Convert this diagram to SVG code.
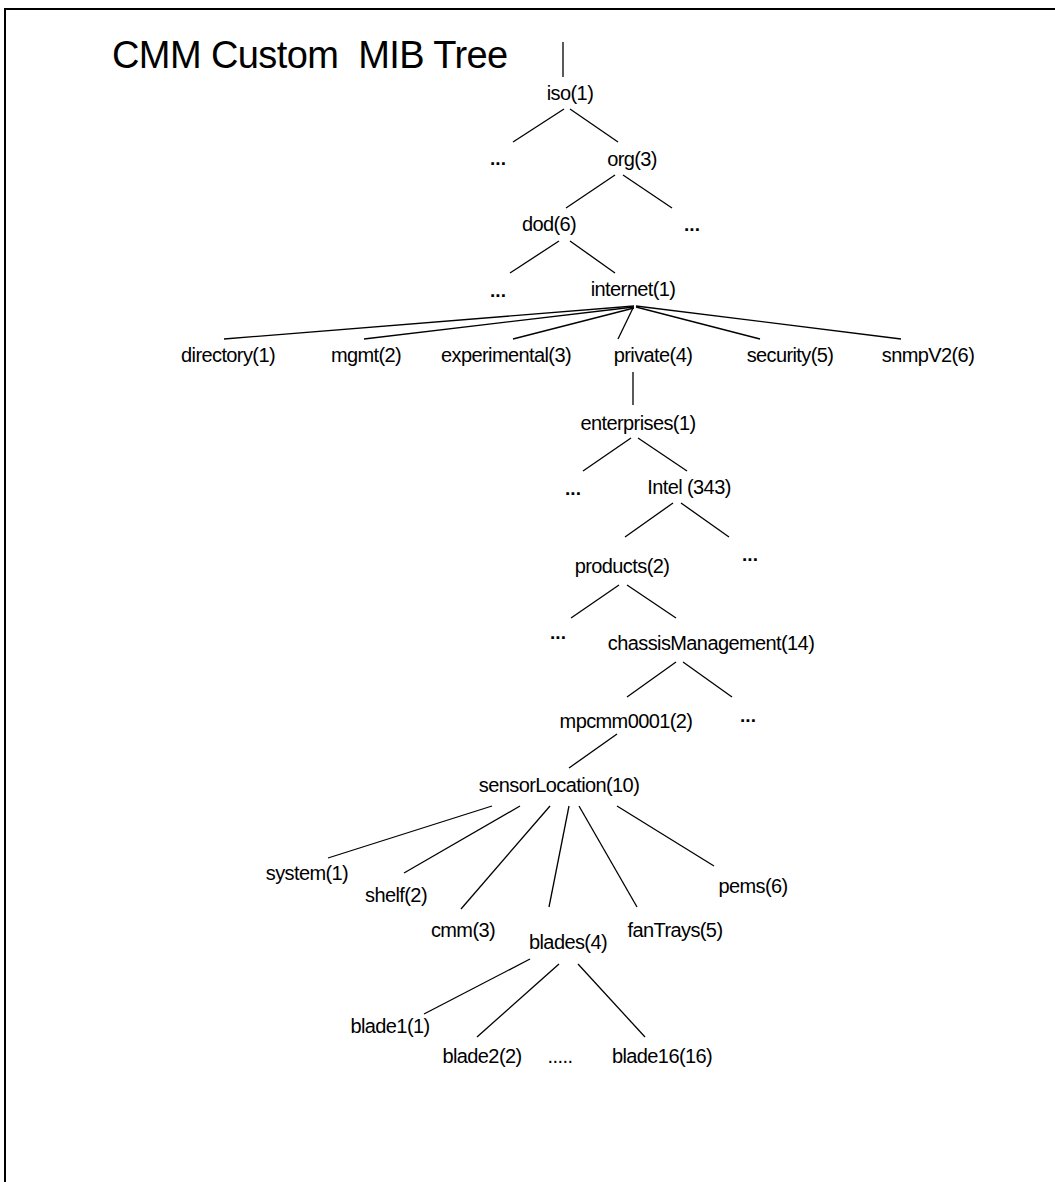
<svg xmlns="http://www.w3.org/2000/svg" width="1055" height="1182" viewBox="0 0 1055 1182">
<style>
  .t{font-family:"Liberation Sans",Arial,sans-serif;font-size:20px;fill:#000;text-anchor:middle;letter-spacing:-0.6px}
  .d{font-family:"Liberation Sans",Arial,sans-serif;font-size:19px;font-weight:bold;fill:#000;text-anchor:middle}
  .title{font-family:"Liberation Sans",Arial,sans-serif;font-size:38px;fill:#000;letter-spacing:-0.6px}
  #connectors line{stroke:#000;stroke-width:1.3}
</style>
<rect width="1055" height="1182" fill="#fff"/>
<path d="M5,1182 V9 H1055" fill="none" stroke="#000" stroke-width="2"/>
<text class="title" x="112" y="68" xml:space="preserve">CMM Custom  MIB Tree</text>
<g id="connectors">
  <line x1="563" y1="42" x2="563" y2="77"/>
  <line x1="564" y1="109" x2="513" y2="142"/>
  <line x1="570" y1="109" x2="618" y2="142"/>
  <line x1="615" y1="175" x2="566" y2="208"/>
  <line x1="623" y1="175" x2="672" y2="208"/>
  <line x1="559" y1="241" x2="510" y2="273"/>
  <line x1="570" y1="241" x2="615" y2="273"/>
  <line x1="634" y1="306" x2="224" y2="339"/>
  <line x1="634" y1="307" x2="364" y2="339"/>
  <line x1="634" y1="308" x2="513" y2="339"/>
  <line x1="633" y1="308" x2="618" y2="339"/>
  <line x1="636" y1="307" x2="760" y2="339"/>
  <line x1="636" y1="306" x2="901" y2="339"/>
  <line x1="633" y1="372" x2="633" y2="405"/>
  <line x1="631" y1="438" x2="583" y2="471"/>
  <line x1="638" y1="438" x2="687" y2="471"/>
  <line x1="673" y1="503" x2="625" y2="537"/>
  <line x1="681" y1="503" x2="729" y2="537"/>
  <line x1="619" y1="585" x2="571" y2="618"/>
  <line x1="627" y1="585" x2="676" y2="618"/>
  <line x1="676" y1="662" x2="627" y2="697"/>
  <line x1="683" y1="662" x2="732" y2="697"/>
  <line x1="617" y1="734" x2="569" y2="768"/>
  <line x1="492" y1="806" x2="328" y2="858"/>
  <line x1="520" y1="806" x2="404" y2="873"/>
  <line x1="550" y1="806" x2="461" y2="909"/>
  <line x1="569" y1="806" x2="549" y2="907"/>
  <line x1="579" y1="806" x2="637" y2="907"/>
  <line x1="617" y1="806" x2="714" y2="866"/>
  <line x1="530" y1="959" x2="424" y2="1014"/>
  <line x1="559" y1="964" x2="477" y2="1037"/>
  <line x1="578" y1="964" x2="645" y2="1037"/>
</g>
<g id="n-iso"><text class="t" x="570" y="100">iso(1)</text></g>
<g id="n-iso-more"><text class="d" x="498" y="165">...</text></g>
<g id="n-org"><text class="t" x="632" y="166">org(3)</text></g>
<g id="n-dod"><text class="t" x="549" y="231">dod(6)</text></g>
<g id="n-org-more"><text class="d" x="692" y="231">...</text></g>
<g id="n-dod-more"><text class="d" x="498" y="297">...</text></g>
<g id="n-internet"><text class="t" x="633" y="296">internet(1)</text></g>
<g id="n-directory"><text class="t" x="228" y="362">directory(1)</text></g>
<g id="n-mgmt"><text class="t" x="366" y="362">mgmt(2)</text></g>
<g id="n-experimental"><text class="t" x="506" y="362">experimental(3)</text></g>
<g id="n-private"><text class="t" x="653" y="362">private(4)</text></g>
<g id="n-security"><text class="t" x="790" y="362">security(5)</text></g>
<g id="n-snmpv2"><text class="t" x="928" y="362">snmpV2(6)</text></g>
<g id="n-enterprises"><text class="t" x="638" y="430">enterprises(1)</text></g>
<g id="n-ent-more"><text class="d" x="573" y="495">...</text></g>
<g id="n-intel"><text class="t" x="689" y="494">Intel (343)</text></g>
<g id="n-intel-more"><text class="d" x="750" y="561">...</text></g>
<g id="n-products"><text class="t" x="622" y="573">products(2)</text></g>
<g id="n-prod-more"><text class="d" x="558" y="639">...</text></g>
<g id="n-chassis"><text class="t" x="711" y="650">chassisManagement(14)</text></g>
<g id="n-mpcmm"><text class="t" x="626" y="728">mpcmm0001(2)</text></g>
<g id="n-chassis-more"><text class="d" x="748" y="722">...</text></g>
<g id="n-sensor"><text class="t" x="559" y="792">sensorLocation(10)</text></g>
<g id="n-system"><text class="t" x="307" y="880">system(1)</text></g>
<g id="n-shelf"><text class="t" x="396" y="902">shelf(2)</text></g>
<g id="n-cmm"><text class="t" x="463" y="937">cmm(3)</text></g>
<g id="n-blades"><text class="t" x="568" y="949">blades(4)</text></g>
<g id="n-fantrays"><text class="t" x="675" y="937">fanTrays(5)</text></g>
<g id="n-pems"><text class="t" x="753" y="893">pems(6)</text></g>
<g id="n-blade1"><text class="t" x="390" y="1033">blade1(1)</text></g>
<g id="n-blade2"><text class="t" x="482" y="1063">blade2(2)</text></g>
<g id="n-blade-more"><text class="t" x="560" y="1063">.....</text></g>
<g id="n-blade16"><text class="t" x="662" y="1063">blade16(16)</text></g>
</svg>
